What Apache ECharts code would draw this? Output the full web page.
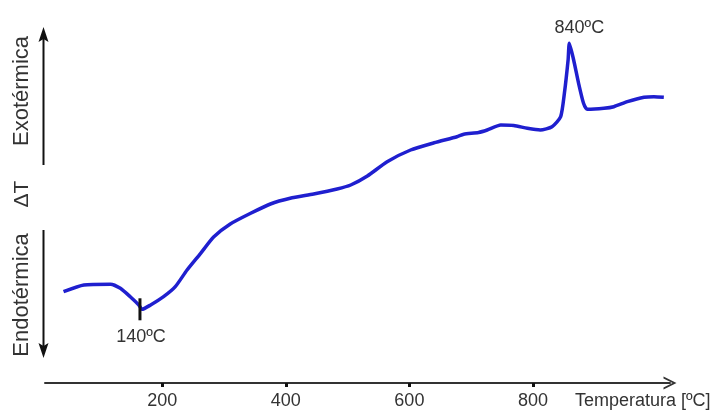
<!DOCTYPE html>
<html>
<head>
<meta charset="utf-8">
<script src="https://cdn.jsdelivr.net/npm/echarts@6/dist/echarts.min.js"></script>
<style>html,body{margin:0;padding:0;background:#fff;}#c{width:720px;height:416px;}</style>
</head>
<body>
<div id="c"></div>
<script>
// Temperature (°C)
var temperatures = [40, 73, 116, 132, 148, 162, 167, 181, 202, 221, 240, 262, 283, 310, 343, 375, 407, 445, 483, 505, 532, 564, 602, 640, 677, 688, 712, 726, 748, 769, 791, 812, 831, 845, 851, 857, 859, 866, 874, 882, 888, 915, 931, 953, 980, 996, 1012];
// ΔT (arbitrary units)
var deltaT = [9.13, 9.8, 9.87, 9.47, 8.63, 7.8, 7.37, 7.8, 8.63, 9.63, 11.3, 12.97, 14.6, 15.9, 16.97, 17.9, 18.47, 18.9, 19.4, 19.8, 20.7, 22.13, 23.3, 24.02, 24.63, 24.87, 25.05, 25.3, 25.8, 25.75, 25.47, 25.3, 25.63, 26.63, 28.97, 32.3, 33.97, 32.3, 29.97, 27.97, 27.37, 27.47, 27.63, 28.13, 28.57, 28.63, 28.57];
var xTicks = [200, 400, 600, 800];
var peakLabels = { min: '140ºC', max: '840ºC' };
var xAxisName = 'Temperatura [ºC]';
var yTexts = ['Exotérmica', 'ΔT', 'Endotérmica'];

var seriesData = temperatures.map(function (t, i) { return [t, deltaT[i]]; });
var FONT = 'Liberation Sans, Arial, sans-serif';

var chart = echarts.init(document.getElementById('c'), null, { renderer: 'canvas' });
chart.setOption({
  backgroundColor: '#ffffff',
  animation: false,
  grid: { left: 45, right: 50, top: 23, bottom: 33, containLabel: false },
  xAxis: {
    type: 'value', min: 10, max: 1022,
    splitLine: { show: false },
    axisLine: {
      show: true, onZero: false,
      lineStyle: { color: '#333333', width: 2 },
      symbol: ['none', 'path://M0,100 L50,0 L100,100 L84,100 L50,30 L16,100 Z'],
      symbolSize: [13, 15]
    },
    axisTick: { show: true, customValues: xTicks, length: 4, lineStyle: { color: '#111', width: 3 } },
    axisLabel: { show: true, customValues: xTicks, margin: 9, color: '#333', fontSize: 18, fontFamily: FONT }
  },
  yAxis: {
    type: 'value', min: 0, max: 36,
    show: false
  },
  graphic: [
    // vertical arrows
    { type: 'line', shape: { x1: 43.5, y1: 165, x2: 43.5, y2: 38 }, style: { stroke: '#111', lineWidth: 2 } },
    { type: 'polygon', shape: { points: [[43.5, 27], [38.5, 42], [43.5, 39], [48.5, 42]] }, style: { fill: '#111' } },
    { type: 'line', shape: { x1: 43.5, y1: 230, x2: 43.5, y2: 347 }, style: { stroke: '#111', lineWidth: 2 } },
    { type: 'polygon', shape: { points: [[43.5, 358], [38.5, 343], [43.5, 346], [48.5, 343]] }, style: { fill: '#111' } },
    { type: 'text', x: 22, y: 91, rotation: Math.PI / 2, style: { text: yTexts[0], fontSize: 22, fontFamily: FONT, fill: '#333', align: 'center', verticalAlign: 'middle' } },
    { type: 'text', x: 22, y: 194, rotation: Math.PI / 2, style: { text: yTexts[1], fontSize: 21, fontFamily: FONT, fill: '#333', align: 'center', verticalAlign: 'middle' } },
    { type: 'text', x: 22, y: 295, rotation: Math.PI / 2, style: { text: yTexts[2], fontSize: 22, fontFamily: FONT, fill: '#333', align: 'center', verticalAlign: 'middle' } },
    { type: 'text', x: 575, y: 401, style: { text: xAxisName, fontSize: 18, fontFamily: FONT, fill: '#333', align: 'left', verticalAlign: 'middle' } }
  ],
  series: [{
    type: 'line',
    data: seriesData,
    showSymbol: false,
    smooth: 0.2,
    lineStyle: { color: '#1f1fcf', width: 3.5 },
    markPoint: {
      silent: true,
      data: [
        { type: 'min', symbol: 'rect', symbolSize: [3, 22], symbolOffset: [-2, 0],
          itemStyle: { color: '#111' },
          label: { show: true, formatter: peakLabels.min, position: 'bottom', distance: 8, color: '#333', fontSize: 18, fontFamily: FONT, offset: [1, 0] } },
        { type: 'max', symbol: 'circle', symbolSize: 1,
          itemStyle: { color: 'rgba(0,0,0,0)' },
          label: { show: true, formatter: peakLabels.max, position: 'top', distance: 6, color: '#333', fontSize: 18, fontFamily: FONT, offset: [10, 0] } }
      ]
    }
  }]
});
</script>
</body>
</html>
